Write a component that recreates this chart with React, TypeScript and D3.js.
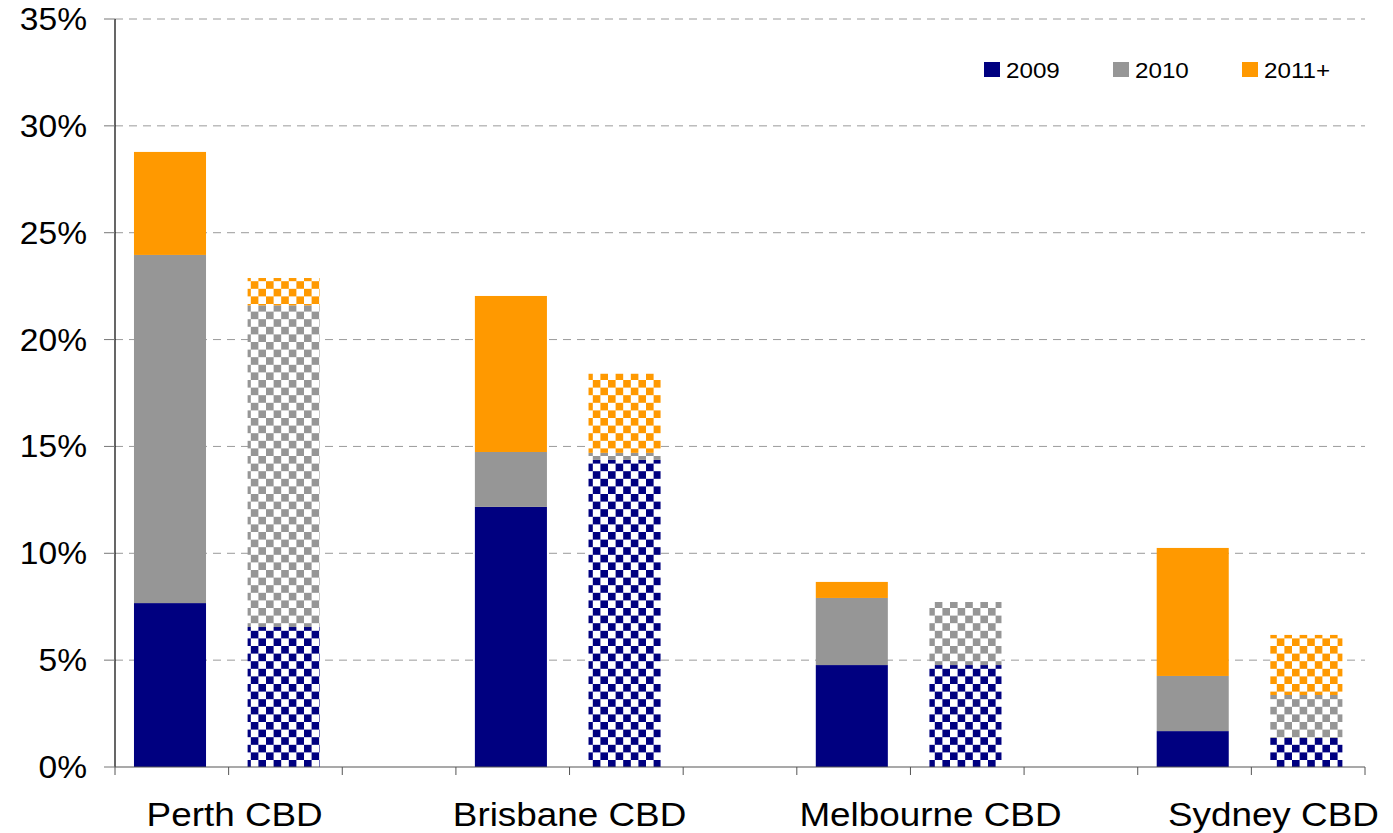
import * as d3 from "d3";
import React from "react";

const W = 1393;
const H = 833;
const margin = { top: 19, right: 28, bottom: 66, left: 115 };

// cities along the x axis, each with a solid bar and a checked bar
const cities = ["Perth CBD", "Brisbane CBD", "Melbourne CBD", "Sydney CBD"];
const seriesNames = ["2009", "2010", "2011+"];
const seriesColors = ["#000080", "#969696", "#FF9900"];

// solid bars (% increments per year)
const solid2009 = [7.67, 12.17, 4.77, 1.68];
const solid2010 = [16.29, 2.57, 3.14, 2.58];
const solid2011 = [4.82, 7.3, 0.75, 5.99];

// checked bars
const checked2009 = [6.55, 14.37, 4.77, 1.36];
const checked2010 = [15.05, 0.33, 2.95, 2.01];
const checked2011 = [1.28, 3.7, 0, 2.81];

const yTicks = [0, 5, 10, 15, 20, 25, 30, 35];

// small horizontal nudges of the city labels, as in the original
const labelShift = [6, 0, 20, 22];

const FONT = "'Liberation Sans', Arial, sans-serif";
const SX = 1.1;

export default function App() {
  const slots: string[] = [];
  cities.forEach((c, i) => {
    slots.push(c + "|solid", c + "|checked");
    if (i < cities.length - 1) slots.push(c + "|gap");
  });

  // one slot per category, bars sit a bit left of the slot centre
  const x = d3
    .scaleBand()
    .domain(slots)
    .range([margin.left, W - margin.right])
    .padding(0);
  const step = x.step();
  const barOff = step * 0.167;
  const barW = step * 0.634;

  const y = d3.scaleLinear().domain([0, 35]).range([H - margin.bottom, margin.top]);

  const rows = cities.flatMap((c, i) => [
    { slot: c + "|solid", vals: [solid2009[i], solid2010[i], solid2011[i]], checked: false },
    { slot: c + "|checked", vals: [checked2009[i], checked2010[i], checked2011[i]], checked: true },
  ]);

  const stackKeys = [0, 1, 2];
  const stacked = d3
    .stack<any, number>()
    .keys(stackKeys as any)
    .value((d: any, k: any) => d.vals[k])(rows as any);

  const boundaries = d3.range(slots.length + 1).map((i) => margin.left + i * step);

  const text = (
    key: string,
    tx: number,
    ty: number,
    s: string,
    size: number,
    anchor: string
  ) => (
    <text
      key={key}
      transform={`translate(${tx},${ty}) scale(${SX},1)`}
      fontSize={size}
      fontFamily={FONT}
      textAnchor={anchor}
      fill="#000"
    >
      {s}
    </text>
  );

  const cell = 7.6;

  return (
    <svg
      width={W}
      height={H}
      style={{ position: "absolute", left: 0, top: 0, background: "#fff" }}
    >
      <defs>
        {seriesColors.map((col, i) => (
          <pattern
            key={i}
            id={"chk" + i}
            patternUnits="userSpaceOnUse"
            width={cell * 2}
            height={cell * 2}
            x={0}
            y={0}
          >
            <rect width={cell * 2} height={cell * 2} fill="#fff" />
            <rect width={cell} height={cell} fill={col} />
            <rect x={cell} y={cell} width={cell} height={cell} fill={col} />
          </pattern>
        ))}
      </defs>

      {/* grid */}
      {yTicks
        .filter((t) => t > 0)
        .map((t) => (
          <line
            key={"g" + t}
            x1={margin.left}
            x2={W - margin.right}
            y1={y(t)}
            y2={y(t)}
            stroke="#9a9a9a"
            strokeWidth={1}
            strokeDasharray="8,6"
          />
        ))}

      {/* bars */}
      {stacked.map((layer: any, k: number) =>
        layer.map((d: any, j: number) => {
          const r = rows[j];
          const h = y(d[0]) - y(d[1]);
          if (h <= 0) return null;
          return (
            <rect
              key={k + "-" + j}
              x={(x(r.slot) as number) + barOff}
              y={y(d[1])}
              width={barW}
              height={h}
              fill={r.checked ? `url(#chk${k})` : seriesColors[k]}
            />
          );
        })
      )}

      {/* y axis */}
      <line
        x1={margin.left}
        x2={margin.left}
        y1={y(35)}
        y2={y(0)}
        stroke="#000"
        strokeWidth={1.2}
      />
      {yTicks.map((t) => (
        <g key={"yt" + t}>
          <line
            x1={margin.left - 11}
            x2={margin.left}
            y1={y(t)}
            y2={y(t)}
            stroke="#777"
          />
          {text("yl" + t, 87, y(t) + 11, t + "%", 30.5, "end")}
        </g>
      ))}

      {/* x axis */}
      <line
        x1={margin.left}
        x2={W - margin.right}
        y1={y(0)}
        y2={y(0)}
        stroke="#555"
        strokeWidth={1.2}
      />
      {boundaries.map((bx, i) => (
        <line
          key={"xt" + i}
          x1={bx}
          x2={bx}
          y1={y(0)}
          y2={y(0) + 8}
          stroke="#555"
        />
      ))}
      {cities.map((c, i) => {
        const cx = (x(c + "|checked") as number) + labelShift[i];
        return text("cl" + i, cx, 826, c, 33.5, "middle");
      })}

      {/* legend */}
      {seriesNames.map((s, i) => {
        const lx = 984 + i * 129;
        return (
          <g key={"lg" + i}>
            <rect x={lx} y={62} width={16} height={15} fill={seriesColors[i]} />
            {text("lt" + i, lx + 22, 78, s, 22, "start")}
          </g>
        );
      })}
    </svg>
  );
}
